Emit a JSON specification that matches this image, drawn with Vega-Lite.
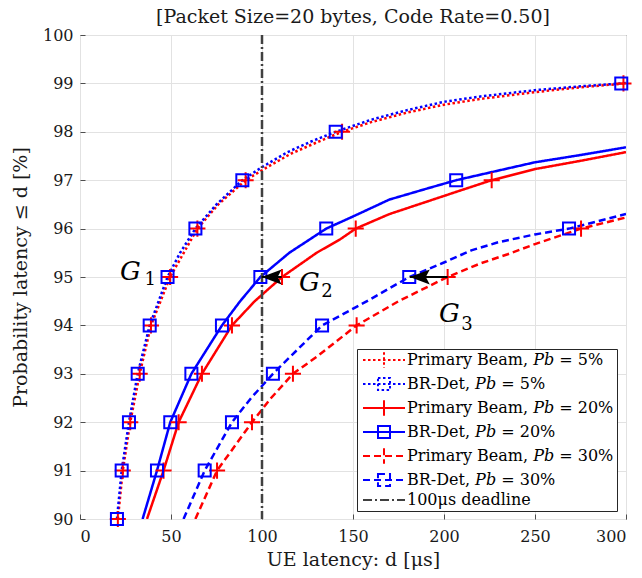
{
  "$schema": "https://vega.github.io/schema/vega-lite/v6.json",
  "width": 546,
  "height": 484,
  "autosize": {"type": "none"},
  "padding": {"left": 80, "top": 35, "right": 16, "bottom": 59},
  "background": "white",
  "config": {
    "font": "DejaVu Serif",
    "view": {"stroke": "#3a3a3a", "strokeWidth": 1},
    "axis": {
      "labelFont": "DejaVu Serif",
      "labelFontSize": 16,
      "labelColor": "#1a1a1a",
      "titleFont": "DejaVu Serif",
      "titleFontSize": 19,
      "titleFontWeight": "normal",
      "titleColor": "#1a1a1a",
      "grid": true,
      "gridColor": "#e2e2e2",
      "gridWidth": 1,
      "domain": false,
      "ticks": true,
      "tickSize": -5,
      "tickColor": "#4d4d4d"
    }
  },
  "title": {
    "text": "[Packet Size=20 bytes, Code Rate=0.50]",
    "font": "DejaVu Serif",
    "fontSize": 19,
    "fontWeight": "normal",
    "color": "#1a1a1a",
    "offset": 0
  },
  "datasets": {
    "curves": [
      {"s": "PB5", "d": 20.8, "p": 90}, {"s": "PB5", "d": 23.5, "p": 91}, {"s": "PB5", "d": 27.6, "p": 92}, {"s": "PB5", "d": 32.8, "p": 93}, {"s": "PB5", "d": 39, "p": 94}, {"s": "PB5", "d": 49.5, "p": 95}, {"s": "PB5", "d": 57, "p": 95.5}, {"s": "PB5", "d": 64.5, "p": 96}, {"s": "PB5", "d": 76, "p": 96.5}, {"s": "PB5", "d": 91, "p": 97}, {"s": "PB5", "d": 102, "p": 97.25}, {"s": "PB5", "d": 116, "p": 97.55}, {"s": "PB5", "d": 130, "p": 97.78}, {"s": "PB5", "d": 144, "p": 98}, {"s": "PB5", "d": 160, "p": 98.2}, {"s": "PB5", "d": 180, "p": 98.4}, {"s": "PB5", "d": 200, "p": 98.56}, {"s": "PB5", "d": 220, "p": 98.68}, {"s": "PB5", "d": 250, "p": 98.82}, {"s": "PB5", "d": 275, "p": 98.92}, {"s": "PB5", "d": 300, "p": 99.0},
      {"s": "BR5", "d": 20.3, "p": 90}, {"s": "BR5", "d": 22.9, "p": 91}, {"s": "BR5", "d": 26.9, "p": 92}, {"s": "BR5", "d": 31.7, "p": 93}, {"s": "BR5", "d": 38.3, "p": 94}, {"s": "BR5", "d": 48.1, "p": 95}, {"s": "BR5", "d": 55, "p": 95.5}, {"s": "BR5", "d": 63.4, "p": 96}, {"s": "BR5", "d": 75, "p": 96.5}, {"s": "BR5", "d": 89.2, "p": 97}, {"s": "BR5", "d": 100, "p": 97.27}, {"s": "BR5", "d": 114, "p": 97.58}, {"s": "BR5", "d": 127, "p": 97.8}, {"s": "BR5", "d": 140.5, "p": 98}, {"s": "BR5", "d": 160, "p": 98.25}, {"s": "BR5", "d": 180, "p": 98.45}, {"s": "BR5", "d": 200, "p": 98.62}, {"s": "BR5", "d": 220, "p": 98.73}, {"s": "BR5", "d": 250, "p": 98.86}, {"s": "BR5", "d": 275, "p": 98.94}, {"s": "BR5", "d": 297.4, "p": 99}, {"s": "BR5", "d": 300, "p": 99.01},
      {"s": "PB20", "d": 36.8, "p": 90}, {"s": "PB20", "d": 45.9, "p": 91}, {"s": "PB20", "d": 54.2, "p": 92}, {"s": "PB20", "d": 67, "p": 93}, {"s": "PB20", "d": 83.5, "p": 94}, {"s": "PB20", "d": 96, "p": 94.5}, {"s": "PB20", "d": 111, "p": 95}, {"s": "PB20", "d": 130, "p": 95.5}, {"s": "PB20", "d": 143, "p": 95.78}, {"s": "PB20", "d": 151.5, "p": 96}, {"s": "PB20", "d": 170, "p": 96.3}, {"s": "PB20", "d": 190, "p": 96.55}, {"s": "PB20", "d": 210, "p": 96.8}, {"s": "PB20", "d": 226.2, "p": 97}, {"s": "PB20", "d": 250, "p": 97.23}, {"s": "PB20", "d": 275, "p": 97.4}, {"s": "PB20", "d": 300, "p": 97.58},
      {"s": "BR20", "d": 34.4, "p": 90}, {"s": "BR20", "d": 42.3, "p": 91}, {"s": "BR20", "d": 49.6, "p": 92}, {"s": "BR20", "d": 61.2, "p": 93}, {"s": "BR20", "d": 78, "p": 94}, {"s": "BR20", "d": 88, "p": 94.5}, {"s": "BR20", "d": 99.1, "p": 95}, {"s": "BR20", "d": 115, "p": 95.5}, {"s": "BR20", "d": 135.3, "p": 96}, {"s": "BR20", "d": 150, "p": 96.25}, {"s": "BR20", "d": 170, "p": 96.6}, {"s": "BR20", "d": 190, "p": 96.82}, {"s": "BR20", "d": 206.7, "p": 97}, {"s": "BR20", "d": 230, "p": 97.2}, {"s": "BR20", "d": 250, "p": 97.37}, {"s": "BR20", "d": 275, "p": 97.52}, {"s": "BR20", "d": 300, "p": 97.68},
      {"s": "PB30", "d": 63.4, "p": 90}, {"s": "PB30", "d": 75.3, "p": 91}, {"s": "PB30", "d": 94.5, "p": 92}, {"s": "PB30", "d": 105, "p": 92.5}, {"s": "PB30", "d": 117, "p": 93}, {"s": "PB30", "d": 130, "p": 93.35}, {"s": "PB30", "d": 152, "p": 94}, {"s": "PB30", "d": 175, "p": 94.5}, {"s": "PB30", "d": 202, "p": 95}, {"s": "PB30", "d": 220, "p": 95.28}, {"s": "PB30", "d": 235, "p": 95.47}, {"s": "PB30", "d": 250, "p": 95.68}, {"s": "PB30", "d": 275.3, "p": 96}, {"s": "PB30", "d": 300, "p": 96.23},
      {"s": "BR30", "d": 56.9, "p": 90}, {"s": "BR30", "d": 68.5, "p": 91}, {"s": "BR30", "d": 83.5, "p": 92}, {"s": "BR30", "d": 94, "p": 92.5}, {"s": "BR30", "d": 106, "p": 93}, {"s": "BR30", "d": 133, "p": 94}, {"s": "BR30", "d": 143, "p": 94.2}, {"s": "BR30", "d": 160, "p": 94.55}, {"s": "BR30", "d": 180.9, "p": 95}, {"s": "BR30", "d": 200, "p": 95.3}, {"s": "BR30", "d": 215, "p": 95.55}, {"s": "BR30", "d": 230, "p": 95.72}, {"s": "BR30", "d": 250, "p": 95.88}, {"s": "BR30", "d": 268.7, "p": 96}, {"s": "BR30", "d": 300, "p": 96.3}
    ],
    "markers": [
      {"s": "PB5", "d": 20.8, "p": 90}, {"s": "PB5", "d": 23.5, "p": 91}, {"s": "PB5", "d": 27.6, "p": 92}, {"s": "PB5", "d": 32.8, "p": 93}, {"s": "PB5", "d": 39, "p": 94}, {"s": "PB5", "d": 49.5, "p": 95}, {"s": "PB5", "d": 64.5, "p": 96}, {"s": "PB5", "d": 91, "p": 97}, {"s": "PB5", "d": 144, "p": 98}, {"s": "PB5", "d": 298.6, "p": 99},
      {"s": "BR5", "d": 20.3, "p": 90}, {"s": "BR5", "d": 22.9, "p": 91}, {"s": "BR5", "d": 26.9, "p": 92}, {"s": "BR5", "d": 31.7, "p": 93}, {"s": "BR5", "d": 38.3, "p": 94}, {"s": "BR5", "d": 48.1, "p": 95}, {"s": "BR5", "d": 63.4, "p": 96}, {"s": "BR5", "d": 89.2, "p": 97}, {"s": "BR5", "d": 140.5, "p": 98}, {"s": "BR5", "d": 297.4, "p": 99},
      {"s": "PB20", "d": 45.9, "p": 91}, {"s": "PB20", "d": 54.2, "p": 92}, {"s": "PB20", "d": 67, "p": 93}, {"s": "PB20", "d": 83.5, "p": 94}, {"s": "PB20", "d": 111, "p": 95}, {"s": "PB20", "d": 151.5, "p": 96}, {"s": "PB20", "d": 226.2, "p": 97},
      {"s": "BR20", "d": 42.3, "p": 91}, {"s": "BR20", "d": 49.6, "p": 92}, {"s": "BR20", "d": 61.2, "p": 93}, {"s": "BR20", "d": 78, "p": 94}, {"s": "BR20", "d": 99.1, "p": 95}, {"s": "BR20", "d": 135.3, "p": 96}, {"s": "BR20", "d": 206.7, "p": 97},
      {"s": "PB30", "d": 75.3, "p": 91}, {"s": "PB30", "d": 94.5, "p": 92}, {"s": "PB30", "d": 117, "p": 93}, {"s": "PB30", "d": 152, "p": 94}, {"s": "PB30", "d": 202, "p": 95}, {"s": "PB30", "d": 275.3, "p": 96},
      {"s": "BR30", "d": 68.5, "p": 91}, {"s": "BR30", "d": 83.5, "p": 92}, {"s": "BR30", "d": 106, "p": 93}, {"s": "BR30", "d": 133, "p": 94}, {"s": "BR30", "d": 180.9, "p": 95}, {"s": "BR30", "d": 268.7, "p": 96}
    ],
    "deadline": [{"s": "DL", "d": 100}],
    "arrows": [
      {"a": "G2", "d": 110.8, "p": 95, "tip": false}, {"a": "G2", "d": 99.8, "p": 95, "tip": true},
      {"a": "G3", "d": 202, "p": 95, "tip": false}, {"a": "G3", "d": 181.2, "p": 95, "tip": true}
    ],
    "labels": [
      {"t": "G", "d": 22.0, "p": 94.94, "k": "main"}, {"t": "1", "d": 35.4, "p": 94.83, "k": "sub"},
      {"t": "G", "d": 120.3, "p": 94.71, "k": "main"}, {"t": "2", "d": 132.6, "p": 94.59, "k": "sub"},
      {"t": "G", "d": 197.3, "p": 94.07, "k": "main"}, {"t": "3", "d": 209.5, "p": 93.9, "k": "sub"}
    ]
  },
  "layer": [
    {
      "data": {"name": "curves"},
      "mark": {"type": "line", "strokeWidth": 2.5, "clip": true, "interpolate": "linear"},
      "encoding": {
        "x": {"field": "d", "type": "quantitative", "scale": {"domain": [0, 300], "nice": false}, "axis": {"title": "UE latency: d [μs]", "values": [0, 50, 100, 150, 200, 250, 300], "labelPadding": 14, "titlePadding": 6}},
        "y": {"field": "p", "type": "quantitative", "scale": {"domain": [90, 100], "nice": false, "zero": false}, "axis": {"title": "Probability latency ≤ d [%]", "values": [90, 91, 92, 93, 94, 95, 96, 97, 98, 99, 100], "labelPadding": 12, "titlePadding": 12}},
        "color": {
          "field": "s", "type": "nominal",
          "scale": {"domain": ["PB5", "BR5", "PB20", "BR20", "PB30", "BR30", "DL"], "range": ["#ff0000", "#0000ff", "#ff0000", "#0000ff", "#ff0000", "#0000ff", "#404040"]},
          "legend": {
            "title": null,
            "orient": "none",
            "legendX": 277,
            "legendY": 314,
            "padding": 3,
            "symbolOffset": 2,
            "strokeColor": "#262626",
            "fillColor": "white",
            "cornerRadius": 0,
            "labelFont": "DejaVu Serif",
            "labelFontSize": 16,
            "labelColor": "#000000",
            "labelLimit": 400,
            "labelOffset": 29,
            "symbolSize": 196,
            "symbolStrokeWidth": 2,
            "rowPadding": 1,
            "labelExpr": "datum.value == 'PB5' ? 'Primary Beam, 𝑃𝑏 = 5%' : datum.value == 'BR5' ? 'BR-Det, 𝑃𝑏 = 5%' : datum.value == 'PB20' ? 'Primary Beam, 𝑃𝑏 = 20%' : datum.value == 'BR20' ? 'BR-Det, 𝑃𝑏 = 20%' : datum.value == 'PB30' ? 'Primary Beam, 𝑃𝑏 = 30%' : datum.value == 'BR30' ? 'BR-Det, 𝑃𝑏 = 30%' : '100μs deadline'",
            "encode": {
              "symbols": {
                "update": {
                  "shape": {"signal": "indexof(datum.value, 'PB') === 0 ? 'M -1 0 L 5 0 M 2 -1.1 L 2 1.1' : indexof(datum.value, 'BR') === 0 ? 'M -1 0 L 5 0 M 1.14 -0.86 L 2.86 -0.86 L 2.86 0.86 L 1.14 0.86 Z' : 'M -1 0 L 5 0'"},
                  "fill": {"value": "transparent"},
                  "size": {"value": 196},
                  "strokeWidth": {"value": 2}
                }
              }
            }
          }
        },
        "strokeDash": {
          "field": "s", "type": "nominal",
          "scale": {"domain": ["PB5", "BR5", "PB20", "BR20", "PB30", "BR30", "DL"], "range": [[2.5, 2.5], [2.5, 2.5], [1, 0], [1, 0], [7, 4], [7, 4], [9, 3, 2, 3]]}
        }
      }
    },
    {
      "data": {"name": "markers"},
      "mark": {"type": "point", "filled": false, "strokeWidth": 2, "opacity": 1},
      "encoding": {
        "x": {"field": "d", "type": "quantitative"},
        "y": {"field": "p", "type": "quantitative"},
        "stroke": {"field": "s", "type": "nominal", "scale": {"domain": ["PB5", "BR5", "PB20", "BR20", "PB30", "BR30"], "range": ["#ff0000", "#0000ff", "#ff0000", "#0000ff", "#ff0000", "#0000ff"]}, "legend": null},
        "shape": {"field": "s", "type": "nominal", "scale": {"domain": ["PB5", "BR5", "PB20", "BR20", "PB30", "BR30"], "range": ["M -1.15 0 L 1.15 0 M 0 -1.15 L 0 1.15", "M -0.86 -0.86 L 0.86 -0.86 L 0.86 0.86 L -0.86 0.86 Z", "M -1.15 0 L 1.15 0 M 0 -1.15 L 0 1.15", "M -0.86 -0.86 L 0.86 -0.86 L 0.86 0.86 L -0.86 0.86 Z", "M -1.15 0 L 1.15 0 M 0 -1.15 L 0 1.15", "M -0.86 -0.86 L 0.86 -0.86 L 0.86 0.86 L -0.86 0.86 Z"]}, "legend": null},
        "size": {"value": 196}
      }
    },
    {
      "data": {"name": "deadline"},
      "mark": {"type": "rule", "strokeWidth": 2.5},
      "encoding": {
        "x": {"field": "d", "type": "quantitative"},
        "color": {"field": "s", "type": "nominal"},
        "strokeDash": {"field": "s", "type": "nominal"}
      }
    },
    {
      "data": {"name": "arrows"},
      "mark": {"type": "line", "color": "black", "strokeWidth": 2},
      "encoding": {
        "x": {"field": "d", "type": "quantitative"},
        "y": {"field": "p", "type": "quantitative"},
        "detail": {"field": "a", "type": "nominal"}
      }
    },
    {
      "data": {"name": "arrows"},
      "transform": [{"filter": "datum.tip"}],
      "mark": {"type": "point", "shape": "M 0 0 L 2 -0.75 L 1.6 0 L 2 0.75 Z", "filled": true, "color": "black", "size": 400, "opacity": 1},
      "encoding": {
        "x": {"field": "d", "type": "quantitative"},
        "y": {"field": "p", "type": "quantitative"}
      }
    },
    {
      "data": {"name": "labels"},
      "transform": [{"filter": "datum.k == 'main'"}],
      "mark": {"type": "text", "font": "DejaVu Serif", "fontStyle": "italic", "fontSize": 26, "align": "left", "baseline": "alphabetic", "color": "black"},
      "encoding": {
        "x": {"field": "d", "type": "quantitative"},
        "y": {"field": "p", "type": "quantitative"},
        "text": {"field": "t"}
      }
    },
    {
      "data": {"name": "labels"},
      "transform": [{"filter": "datum.k == 'sub'"}],
      "mark": {"type": "text", "font": "DejaVu Serif", "fontSize": 18, "align": "left", "baseline": "alphabetic", "color": "black"},
      "encoding": {
        "x": {"field": "d", "type": "quantitative"},
        "y": {"field": "p", "type": "quantitative"},
        "text": {"field": "t"}
      }
    }
  ]
}
